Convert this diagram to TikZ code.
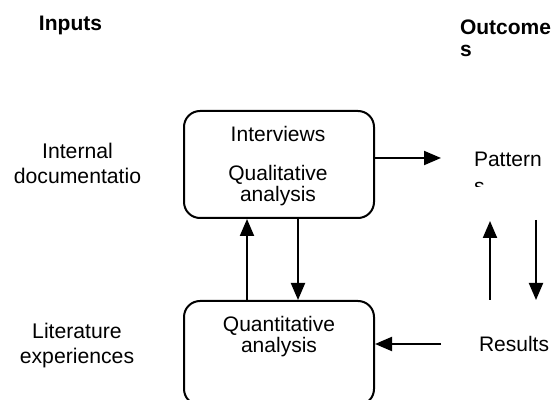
\documentclass[tikz,border=0pt]{standalone}
\usepackage{fontspec}
\setmainfont{Liberation Sans}
\usetikzlibrary{arrows.meta}
\begin{document}
\begin{tikzpicture}[x=0.5pt,y=-0.5pt,line width=1pt,
  >={Triangle[length=8.5pt,width=7pt]},
  font=\fontsize{10.6}{12.5}\selectfont,
  box/.style={draw,rounded corners=8pt,minimum width=95pt,inner sep=0pt},
  boxtext/.style={align=center,inner sep=0pt,font=\fontsize{10.5}{10.25}\selectfont},
  sidetext/.style={align=center,inner sep=0pt},
  heading/.style={align=left,anchor=base west,inner sep=0pt,
    font=\fontsize{10.5}{11}\selectfont\bfseries}]

\useasboundingbox (0,0) rectangle (556,400);
\clip (0,0) rectangle (556,400);

% Headings (base = last line)
\node[heading] (inputs) at (38,30.5) {Inputs};
\node[heading] (outcomes) at (459,57) {Outcome\\s};

% Inputs
\node[sidetext] (internal) at (77.5,163) {Internal\\documentatio};
\node[sidetext] (literature) at (77,345.5) {Literature\\experiences};

% Boxes
\node[box,minimum height=53.5pt] (qual) at (279,164.5) {};
\node[boxtext] (qualText) at (278,166) {Interviews\\[9.5pt]Qualitative\\analysis};
\node[box,minimum height=52pt] (quan) at (279,353) {};
\node[boxtext] (quanText) at (279,336.5) {Quantitative\\analysis};

% Outcomes
\begin{scope}
  \clip (440,140) rectangle (556,187);
  \node[heading,font=\fontsize{10.5}{13.5}\selectfont] (patterns) at (473,194) {Pattern\\s};
\end{scope}
\node[heading,font=\fontsize{10.5}{12.5}\selectfont] (results) at (478,351) {Results};

% Arrows
\coordinate (patIn) at (441,158);
\coordinate (resOut) at (441,344);
\draw[->] (qual.east |- patIn) -- (patIn);
\draw[->] (resOut) -- (resOut -| quan.east);
\draw[->] ([xshift=-16pt]quan.north) -- ([xshift=-16pt]qual.south);
\draw[->] ([xshift=9.5pt]qual.south) -- ([xshift=9.5pt]quan.north);
\coordinate (upBot) at (490,300);
\coordinate (upTop) at (490,221);
\coordinate (downTop) at (536,220);
\coordinate (downBot) at (536,300);
\draw[->] (upBot) -- (upTop);
\draw[->] (downTop) -- (downBot);

\end{tikzpicture}
\end{document}
